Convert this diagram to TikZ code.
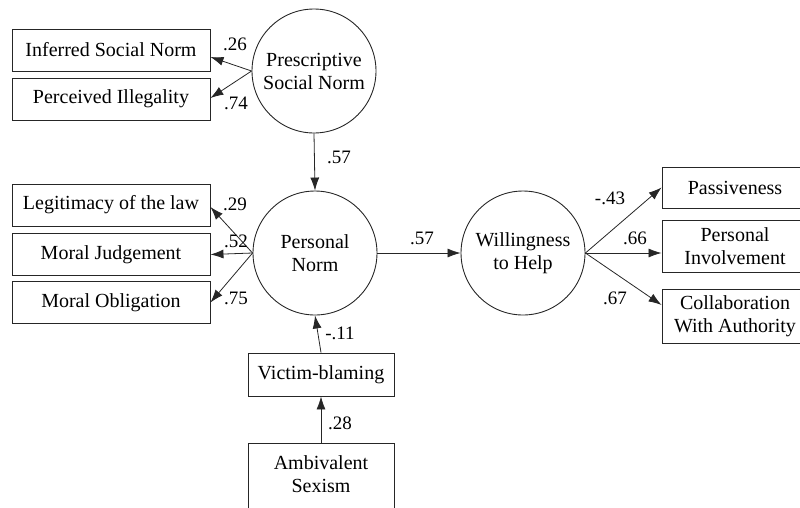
\documentclass[tikz,border=0pt]{standalone}
\usepackage{fontspec}
\setmainfont{Liberation Serif}
\usetikzlibrary{arrows.meta}
\begin{document}
\begin{tikzpicture}[x=1pt,y=-1pt,
  txt/.style={font=\fontsize{20}{23}\selectfont, align=center},
  obs/.style={txt, draw=black!85, line width=0.9pt, rectangle, inner sep=0pt},
  lat/.style={txt, draw=black!85, line width=0.9pt, circle, minimum size=124pt, inner sep=0pt},
  arr/.style={draw=black!85, line width=0.8pt, -{Latex[length=13pt,width=9pt]}},
  coef/.style={font=\fontsize{19}{22}\selectfont, inner sep=0pt}]
\useasboundingbox (0,0) rectangle (800,507);
\clip (0,0) rectangle (800,507);
% latent variables
\node[lat] (psn) at (314,71) {Prescriptive\\Social Norm};
\node[lat] (pn) at (315,253) {Personal\\Norm};
\node[lat] (wh) at (523,253) {Willingness\\to Help};
% left indicator boxes
\node[obs, minimum width=198pt, minimum height=42pt] (isn) at (111,50) {Inferred Social Norm};
\node[obs, minimum width=198pt, minimum height=42pt] (pi) at (111,99) {Perceived Illegality};
\node[obs, minimum width=198pt, minimum height=42pt] (lol) at (111,205) {Legitimacy of the law};
\node[obs, minimum width=198pt, minimum height=42pt] (mj) at (111,254.5) {Moral Judgement};
\node[obs, minimum width=198pt, minimum height=42pt] (mo) at (111,302.5) {Moral Obligation};
% bottom boxes
\node[obs, minimum width=146pt, minimum height=43pt] (vb) at (321,374.5) {Victim-blaming};
\node[obs, minimum width=146pt, minimum height=70pt] (as) at (321,478) {};
\node[txt] at (321,474) {Ambivalent\\Sexism};
% right boxes
\node[obs, minimum width=146pt, minimum height=41pt] (pas) at (735,187.5) {Passiveness};
\node[obs, minimum width=146pt, minimum height=52pt] (pinv) at (735,246) {Personal\\Involvement};
\node[obs, minimum width=146pt, minimum height=54pt] (cwa) at (735,316) {Collaboration\\With Authority};
% connectors
\draw[arr] (psn.west) -- ([yshift=-7pt]isn.east);
\draw[arr] (psn.west) -- ([yshift=1pt]pi.east);
\draw[arr] (psn.south) -- (pn.north);
\draw[arr] (pn.west) -- ([yshift=-2pt]lol.east);
\draw[arr] (pn.west) -- (mj.east);
\draw[arr] (pn.west) -- (mo.east);
\draw[arr] (vb.north) -- (pn.south);
\draw[arr] (as.north) -- (vb.south);
\draw[arr] (pn.east) -- (wh.west);
\draw[arr] (wh.east) -- (pas.west);
\draw[arr] (wh.east) -- ([yshift=-7pt]pinv.west);
\draw[arr] (wh.east) -- ([yshift=11pt]cwa.west);
% coefficients
\node[coef] (c1) at (235,44) {.26};
\node[coef] (c2) at (236,103) {.74};
\node[coef] (c3) at (339,157) {.57};
\node[coef] (c4) at (235,204) {.29};
\node[coef] (c5) at (236,241) {.52};
\node[coef] (c6) at (236,298) {.75};
\node[coef] (c7) at (340,333) {-.11};
\node[coef] (c8) at (340,423) {.28};
\node[coef] (c9) at (422,238) {.57};
\node[coef] (c10) at (610,198) {-.43};
\node[coef] (c11) at (635,238) {.66};
\node[coef] (c12) at (615,298) {.67};
\end{tikzpicture}
\end{document}
